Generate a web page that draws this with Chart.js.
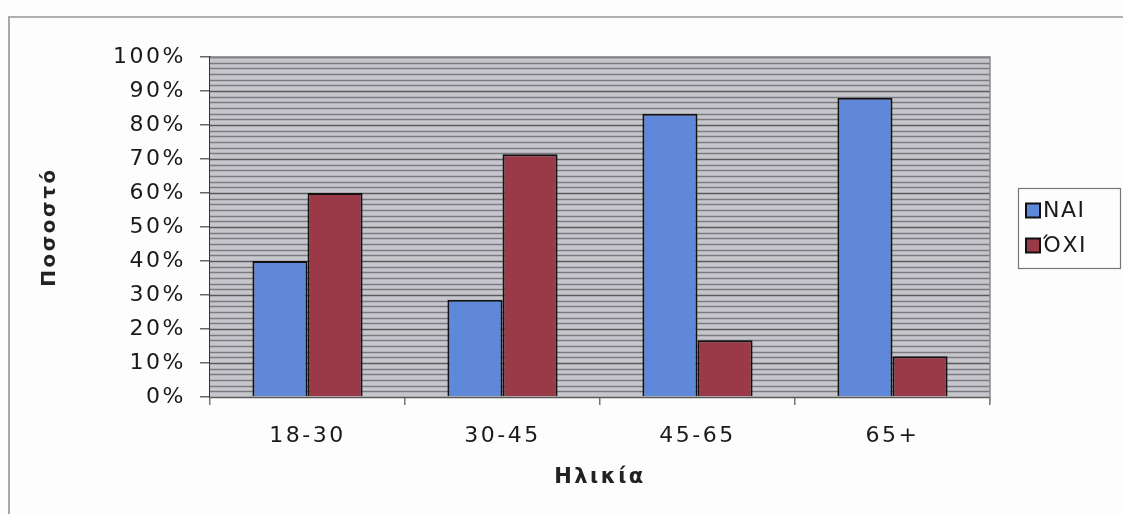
<!DOCTYPE html>
<html>
<head>
<meta charset="utf-8">
<script src="https://cdn.jsdelivr.net/npm/chart.js@4/dist/chart.umd.min.js"></script>
<style>
  html, body { margin: 0; padding: 0; background: #fff; }
  #wrap { position: relative; width: 1123px; height: 514px; overflow: hidden; background: #fdfdfd; }
  #frame { position: absolute; left: 8px; top: 16px; width: 1200px; height: 600px;
           border-top: 2px solid #b0b0b0; border-left: 2px solid #a8a8a8; pointer-events: none; }
  canvas { position: absolute; left: 0; top: 0; }
</style>
</head>
<body>
<div id="wrap">
  <div id="frame"></div>
  <canvas id="c" width="1123" height="514"></canvas>
</div>
<script>
const categories = ['18-30', '30-45', '45-65', '65+'];
const seriesNames = ['NAI', 'ΌΧΙ'];
const naiValues = [40, 28.6, 83.3, 88];
const oxiValues = [60, 71.4, 16.7, 12];
const yTicks = [0, 10, 20, 30, 40, 50, 60, 70, 80, 90, 100];
const yTitle = 'Ποσοστό';
const xTitle = 'Ηλικία';

const FONT = 'DejaVu Sans';
const SPACING = '2.5px';

const spacingPlugin = {
  id: 'spacing',
  beforeUpdate(c) { c.ctx.letterSpacing = SPACING; },
  beforeLayout(c) { c.ctx.letterSpacing = SPACING; },
  beforeDraw(c) { c.ctx.letterSpacing = SPACING; }
};

const stripePlugin = {
  id: 'stripes',
  beforeDatasetsDraw(c) {
    const {ctx, chartArea: a, scales: {y}} = c;
    ctx.save();
    ctx.fillStyle = '#c6c6cd';
    ctx.fillRect(a.left, a.top, a.right - a.left, a.bottom - a.top);
    ctx.lineWidth = 1.3;
    for (let i = 0; i <= 60; i++) {
      const v = i * 100 / 60;
      const py = Math.round(y.getPixelForValue(v)) + 0.5;
      ctx.strokeStyle = (i % 6 === 0) ? '#5a5a5a' : '#7c7c80';
      ctx.beginPath(); ctx.moveTo(a.left, py); ctx.lineTo(a.right, py); ctx.stroke();
    }
    ctx.strokeStyle = '#8a8a8a';
    ctx.lineWidth = 1.5;
    ctx.beginPath();
    ctx.moveTo(a.left, a.top); ctx.lineTo(a.right, a.top); ctx.lineTo(a.right, a.bottom + 6);
    ctx.stroke();
    ctx.restore();
  }
};

const legendPlugin = {
  id: 'boxLegend',
  afterDraw(c) {
    const {ctx, chartArea: a} = c;
    const ds = c.data.datasets;
    const bx = a.right + 28, bw = 102, rowH = 35;
    const bh = 80;
    const cy = (a.top + a.bottom) / 2 + 1;
    const by = cy - bh / 2;
    ctx.save();
    ctx.letterSpacing = '1.5px';
    ctx.strokeStyle = '#777';
    ctx.lineWidth = 1.2;
    ctx.strokeRect(bx + 0.5, by + 0.5, bw, bh);
    ctx.font = '22px "' + FONT + '"';
    ctx.textBaseline = 'middle';
    ctx.textAlign = 'left';
    ds.forEach((d, i) => {
      const iy = cy + (i - (ds.length - 1) / 2) * rowH;
      ctx.fillStyle = d.backgroundColor;
      ctx.fillRect(bx + 8, iy - 7, 14, 14);
      ctx.strokeStyle = '#111';
      ctx.lineWidth = 2;
      ctx.strokeRect(bx + 8, iy - 7, 14, 14);
      ctx.fillStyle = '#1a1a1a';
      ctx.fillText(d.label, bx + 25, iy + 1);
    });
    ctx.restore();
  }
};

new Chart(document.getElementById('c'), {
  type: 'bar',
  data: {
    labels: categories,
    datasets: [
      { label: seriesNames[0], data: naiValues, backgroundColor: '#5f87da', borderColor: '#111', borderWidth: 2,
        categoryPercentage: 0.565, barPercentage: 1.0 },
      { label: seriesNames[1], data: oxiValues, backgroundColor: '#9a3a48', borderColor: '#111', borderWidth: 2,
        categoryPercentage: 0.565, barPercentage: 1.0 }
    ]
  },
  options: {
    responsive: false,
    animation: false,
    devicePixelRatio: 1,
    layout: { padding: { top: 57, right: 133, left: 8, bottom: 0 } },
    plugins: { legend: { display: false }, tooltip: { enabled: false } },
    scales: {
      y: {
        min: 0, max: 100,
        afterFit(s) { s.width = 202; },
        afterBuildTicks(s) { s.ticks = yTicks.map(v => ({ value: v })); },
        ticks: { callback: v => v + '%', font: { family: FONT, size: 22 }, color: '#1a1a1a', padding: 14 },
        grid: { drawOnChartArea: false, drawTicks: true, tickLength: 10, color: '#666', lineWidth: 1.5 },
        border: { display: true, color: '#333', width: 2 },
        title: { display: true, text: yTitle, font: { family: FONT, size: 20, weight: 'bold' }, color: '#222',
                 padding: { top: 30, bottom: 0 } }
      },
      x: {
        afterFit(s) { s.height = 117; },
        ticks: { font: { family: FONT, size: 22 }, color: '#1a1a1a', padding: 18 },
        grid: { offset: true, drawOnChartArea: false, drawTicks: true, tickLength: 8, color: '#777', lineWidth: 1.5 },
        border: { display: true, color: '#333', width: 1.5 },
        title: { display: true, text: xTitle, font: { family: FONT, size: 21, weight: 'bold' }, color: '#222',
                 padding: { top: 0, bottom: 24 } }
      }
    }
  },
  plugins: [spacingPlugin, stripePlugin, legendPlugin]
});
</script>
</body>
</html>
